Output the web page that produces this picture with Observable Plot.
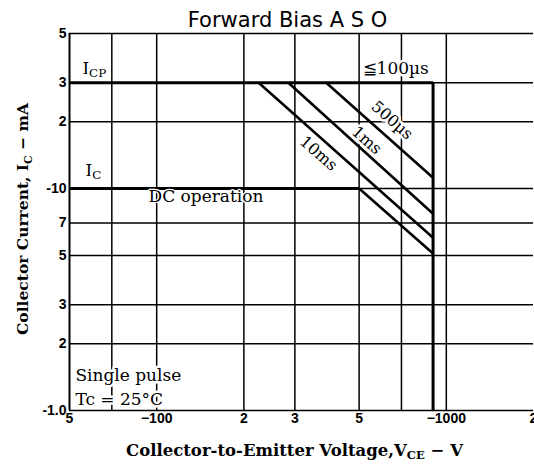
<!DOCTYPE html>
<html>
<head>
<meta charset="utf-8">
<script src="https://cdn.jsdelivr.net/npm/d3@7"></script>
<script src="https://cdn.jsdelivr.net/npm/@observablehq/plot@0.6"></script>
<style>
  html, body { margin: 0; padding: 0; background: #fff; }
</style>
</head>
<body>
<div id="chart"></div>
<script>
// ---- axes / ticks ----
const xDomain = [50, 2000];
const yDomain = [1, 50];
const xTicks = [50, 70, 100, 200, 300, 500, 700, 1000, 2000];
const xTickLabels = ["5", "7", "−100", "2", "3", "5", "7", "−1000", "2"];
const yTicks = [1, 2, 3, 5, 7, 10, 20, 30, 50];
const yTickLabels = ["-1.0", "2", "3", "5", "7", "-10", "2", "3", "5"];
const xGrid = [70, 100, 200, 300, 500, 700, 1000];
const yGrid = [2, 3, 5, 7, 10, 20, 30];

// ---- limits ----
const icpMax = 30;     // mA, pulsed collector current
const icMax = 10;      // mA, DC collector current
const vceMax = 900;    // V, max collector-emitter voltage

// ---- pulse / DC second-breakdown lines ----
const pulseNames  = ["10ms", "1ms", "500µs", "DC"];
const pulseStartV = [225, 285, 385, 500];
const pulseStartI = [30, 30, 30, 10];
const pulseEndV   = [900, 900, 900, 900];
const pulseEndI   = [6.0, 7.7, 11.2, 5.1];

// ---- label anchors (data coordinates) ----
const pulseLabelV = [362, 531, 650];
const pulseLabelI = [14.4, 16.5, 20.3];
const noteTexts = ["I_{CP}", "I_{C}", "≦100µs", "Single pulse", "Tc = 25°C"];
const noteV     = [55.4, 56.8, 514, 52.4, 52.4];
const noteI     = [34.8, 12.1, 34.8, 1.44, 1.12];
const dcText = ["DC operation"];
const dcV = [93.7];
const dcI = [9.25];

const segments = pulseNames.map((n, k) => ({
  name: n, x1: pulseStartV[k], y1: pulseStartI[k], x2: pulseEndV[k], y2: pulseEndI[k]
}));
const boundary = [
  {x1: xDomain[0], y1: icpMax, x2: vceMax, y2: icpMax},
  {x1: xDomain[0], y1: icMax, x2: pulseStartV[3], y2: icMax},
  {x1: vceMax, y1: icpMax, x2: vceMax, y2: yDomain[0]}
];
const pulseLabels = pulseNames.slice(0, 3).map((n, k) => ({text: n, v: pulseLabelV[k], i: pulseLabelI[k]}));
const notes = noteTexts.map((t, k) => ({text: t, v: noteV[k], i: noteI[k]}));
const dcNote = dcText.map((t, k) => ({text: t, v: dcV[k], i: dcI[k]}));

const serif = "'DejaVu Serif', 'Liberation Serif', serif";
const sans = "'Liberation Sans', Arial, sans-serif";

const svg = Plot.plot({
  width: 534,
  height: 468,
  marginLeft: 69,
  marginRight: 1,
  marginTop: 33,
  marginBottom: 58,
  x: {type: "log", domain: xDomain},
  y: {type: "log", domain: yDomain},
  style: {background: "white", color: "black", fontFamily: sans},
  marks: [
    Plot.ruleX(xGrid, {stroke: "black", strokeWidth: 1.5}),
    Plot.ruleY(yGrid, {stroke: "black", strokeWidth: 1.5}),
    Plot.ruleX([xDomain[0]], {stroke: "black", strokeWidth: 2}),
    Plot.ruleY([yDomain[0], yDomain[1]], {stroke: "black", strokeWidth: 1.5}),
    Plot.axisX({
      ticks: xTicks, tickFormat: d => xTickLabels[xTicks.indexOf(d)],
      tickSize: 0, tickPadding: 3, fontSize: 14, fontWeight: "bold", label: null
    }),
    Plot.axisY({
      ticks: yTicks, tickFormat: d => yTickLabels[yTicks.indexOf(d)],
      tickSize: 0, tickPadding: 3, fontSize: 14, fontWeight: "bold", label: null
    }),
    Plot.link(boundary, {x1: "x1", y1: "y1", x2: "x2", y2: "y2", stroke: "black", strokeWidth: 3}),
    Plot.link(segments, {x1: "x1", y1: "y1", x2: "x2", y2: "y2", stroke: "black", strokeWidth: 2.6}),
    Plot.text(pulseLabels, {
      x: "v", y: "i", text: "text", rotate: 41, fontSize: 16, fontFamily: serif,
      fill: "black", stroke: "white", strokeWidth: 5, paintOrder: "stroke"
    }),
    Plot.text(notes, {
      x: "v", y: "i", text: "text", textAnchor: "start", fontSize: 17, fontFamily: serif,
      fill: "black", stroke: "white", strokeWidth: 5, paintOrder: "stroke"
    }),
    Plot.text(dcNote, {
      x: "v", y: "i", text: "text", textAnchor: "start", fontSize: 17, fontFamily: serif,
      fill: "black", stroke: "white", strokeWidth: 2.5, paintOrder: "stroke"
    }),
    Plot.text(["Forward Bias A S O"], {
      text: d => d, frameAnchor: "top", textAnchor: "middle", lineAnchor: "middle",
      dy: -13.5, dx: -14,
      fontSize: 21, fontFamily: "'DejaVu Sans', sans-serif", fill: "black"
    }),
    Plot.text(["Collector-to-Emitter Voltage,V_{CE} − V"], {
      text: d => d, frameAnchor: "bottom", textAnchor: "middle", lineAnchor: "middle",
      dy: 40, dx: -7,
      fontSize: 16.5, fontWeight: "bold", fontFamily: serif, fill: "black"
    }),
    Plot.text(["Collector Current, I_{C} − mA"], {
      text: d => d, frameAnchor: "left", textAnchor: "middle", lineAnchor: "middle",
      dx: -46, dy: -3, rotate: -90,
      fontSize: 15.5, fontWeight: "bold", fontFamily: serif, fill: "black"
    })
  ]
});

// convert "_{...}" into subscript tspans
svg.querySelectorAll("text").forEach(t => {
  const s = t.textContent;
  if (!s.includes("_{")) return;
  while (t.firstChild) t.removeChild(t.firstChild);
  const parts = s.split(/(_\{[^}]*\})/);
  let shifted = false;
  for (const p of parts) {
    if (!p) continue;
    const ts = document.createElementNS("http://www.w3.org/2000/svg", "tspan");
    if (p.startsWith("_{")) {
      ts.textContent = p.slice(2, -1);
      ts.setAttribute("font-size", "70%");
      ts.setAttribute("dy", "0.3em");
      shifted = true;
    } else {
      ts.textContent = p;
      if (shifted) { ts.setAttribute("dy", "-0.21em"); shifted = false; }
    }
    t.appendChild(ts);
  }
});

document.getElementById("chart").appendChild(svg);
</script>
</body>
</html>
